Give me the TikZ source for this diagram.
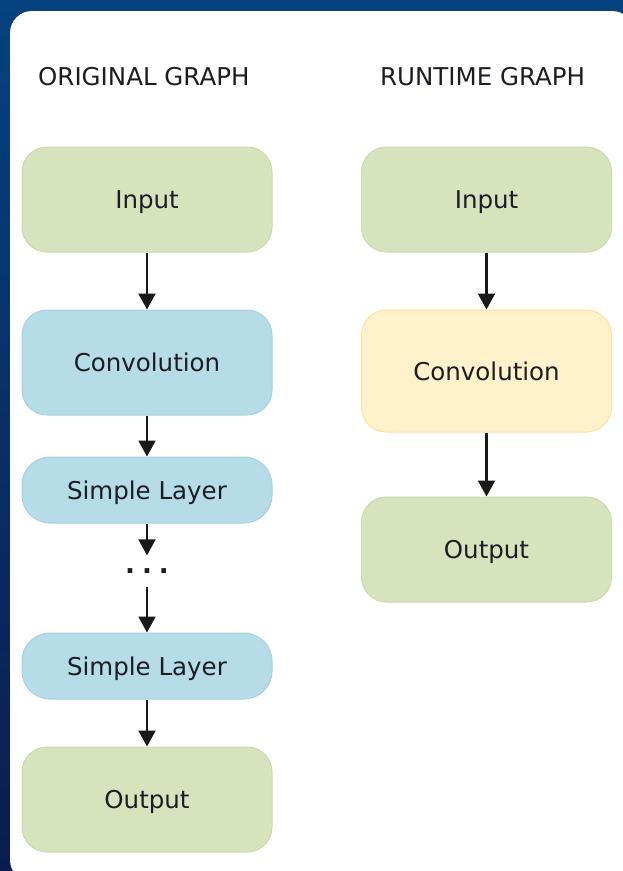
\documentclass[tikz,border=0pt]{standalone}
\usepackage{fontspec}
\setmainfont{DejaVu Sans}
\usetikzlibrary{arrows.meta}

\definecolor{bgtop}{HTML}{05427F}
\definecolor{bgbot}{HTML}{0B1D4E}
\definecolor{greenfill}{HTML}{D6E3BD}
\definecolor{greenline}{HTML}{C9DBAA}
\definecolor{bluefill}{HTML}{B5DCE7}
\definecolor{blueline}{HTML}{A6D2DF}
\definecolor{yellowfill}{HTML}{FFF1CA}
\definecolor{yellowline}{HTML}{FFE29E}
\definecolor{txt}{HTML}{1C1C24}

\tikzset{
  label font/.style={font=\fontsize{24.5}{28}\selectfont, text=txt},
  box/.style={label font, draw, line width=1pt, rounded corners=25pt,
    minimum width=250pt, minimum height=105pt, inner sep=0pt,
    text height=18pt, text depth=0pt},
  greenbox/.style={box, fill=greenfill, draw=greenline},
  bluebox/.style={box, fill=bluefill, draw=blueline},
  yellowbox/.style={box, fill=yellowfill, draw=yellowline},
  thinbox/.style={minimum height=66pt, rounded corners=28pt},
  heading/.style={label font, anchor=west, inner sep=0pt},
  flow/.style={draw=black!90, line width=2.2pt,
    -{Triangle[length=16pt,width=17pt]}}
}

\begin{document}
\begin{tikzpicture}[x=1pt, y=-1pt]
  \useasboundingbox (0,0) rectangle (623,871);

  % backdrop and white panel
  \shade[top color=bgtop, bottom color=bgbot] (0,0) rectangle (623,871);
  \fill[white, rounded corners=22pt] (10,11) rectangle (634,882);

  % headings
  \node[heading] (hOrig) at (38,77) {ORIGINAL GRAPH};
  \node[heading] (hRun)  at (380,77) {RUNTIME GRAPH};

  % original graph
  \node[greenbox] (oIn)   at (147,199.5) {Input};
  \node[bluebox]  (oConv) at (147,362.5) {Convolution};
  \node[bluebox, thinbox] (oSL1) at (147,490) {Simple Layer};
  \node[label font, inner sep=0pt, minimum height=31pt, font=\fontsize{26}{28}\selectfont\bfseries]
    (oDots) at (147,571) {.\hspace{7pt}.\hspace{7pt}.};
  \node[bluebox, thinbox] (oSL2) at (147,666) {Simple Layer};
  \node[greenbox] (oOut)  at (147,799.5) {Output};

  \draw[flow] (oIn)   -- (oConv);
  \draw[flow] (oConv) -- (oSL1);
  \draw[flow] (oSL1)  -- (oDots);
  \draw[flow] (oDots) -- (oSL2);
  \draw[flow] (oSL2)  -- (oOut);

  % runtime graph
  \node[greenbox]  (rIn)   at (486.5,199.5) {Input};
  \node[yellowbox, minimum height=122pt] (rConv) at (486.5,371) {Convolution};
  \node[greenbox]  (rOut)  at (486.5,549.5) {Output};

  \draw[flow] (rIn)   -- (rConv);
  \draw[flow] (rConv) -- (rOut);
\end{tikzpicture}
\end{document}
